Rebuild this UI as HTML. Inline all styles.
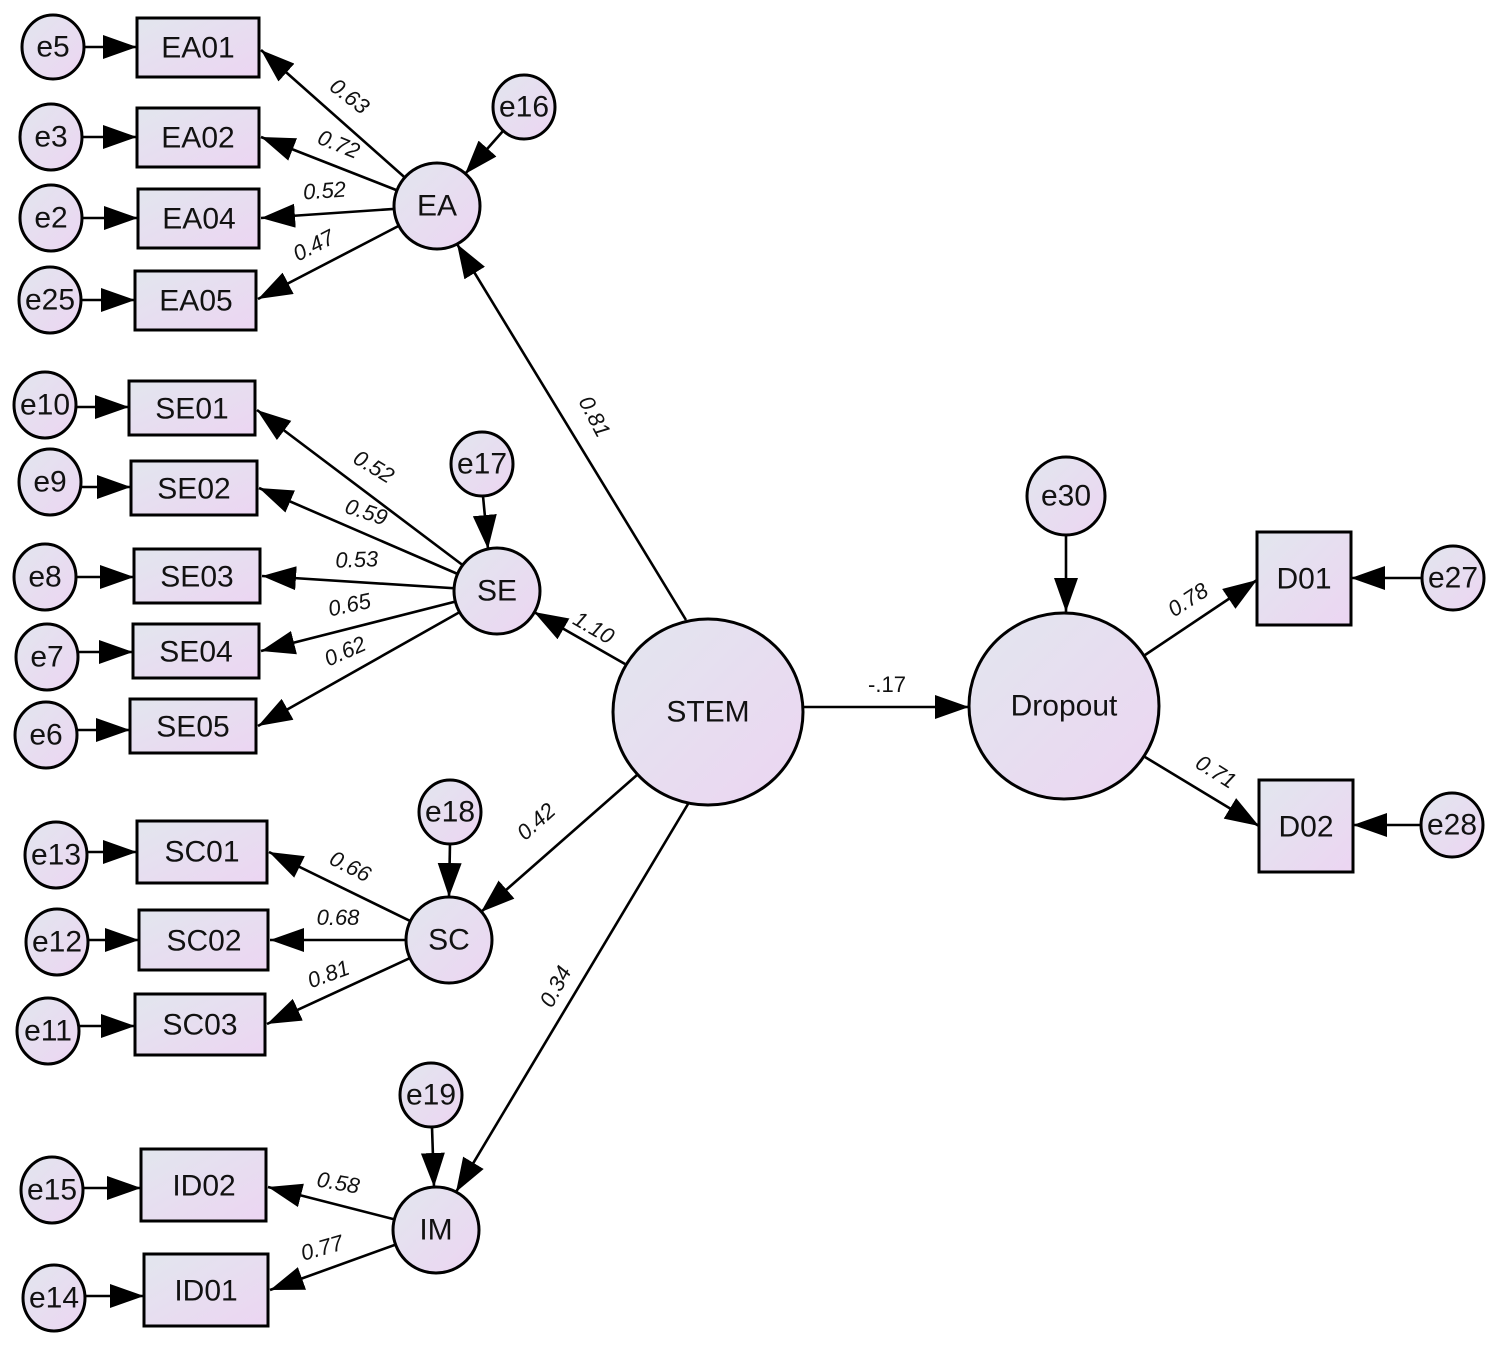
<!DOCTYPE html>
<html><head><meta charset="utf-8"><style>
html,body{margin:0;padding:0;background:#fff;}
svg{display:block;}
text{font-family:"Liberation Sans",Arial,sans-serif;fill:#111;}
.n{font-size:30px;text-anchor:middle;dominant-baseline:central;}
.l{font-size:22px;font-style:italic;text-anchor:middle;fill:#222;}
</style></head><body>
<svg width="1499" height="1350" viewBox="0 0 1499 1350" xmlns="http://www.w3.org/2000/svg">
<defs>
<linearGradient id="g" x1="0" y1="0" x2="1" y2="1">
<stop offset="0" stop-color="#e2e6ee"/><stop offset="1" stop-color="#ecd5f2"/>
</linearGradient>
<marker id="a" markerUnits="userSpaceOnUse" markerWidth="36" markerHeight="28" refX="34" refY="12" orient="auto">
<path d="M0,0 L34,12 L0,24 Z" fill="#000"/>
</marker>
</defs>
<g stroke="#000" stroke-width="2.6" fill="none" marker-end="url(#a)">
<!-- EA loadings -->
<line x1="437" y1="206" x2="261" y2="50"/>
<line x1="437" y1="206" x2="261" y2="137"/>
<line x1="437" y1="206" x2="261" y2="218"/>
<line x1="437" y1="206" x2="258" y2="299"/>
<!-- SE loadings -->
<line x1="497" y1="591" x2="257" y2="410"/>
<line x1="497" y1="591" x2="259" y2="488"/>
<line x1="497" y1="591" x2="262" y2="576"/>
<line x1="497" y1="591" x2="261" y2="651"/>
<line x1="497" y1="591" x2="258" y2="726"/>
<!-- SC -->
<line x1="449" y1="940" x2="269" y2="852"/>
<line x1="449" y1="940" x2="270" y2="940"/>
<line x1="449" y1="940" x2="267" y2="1024"/>
<!-- IM -->
<line x1="436" y1="1230" x2="268" y2="1187"/>
<line x1="436" y1="1230" x2="270" y2="1290"/>
<!-- STEM paths -->
<line x1="686" y1="620" x2="457" y2="244"/>
<line x1="625" y1="664" x2="534" y2="612"/>
<line x1="637" y1="775" x2="481" y2="912"/>
<line x1="688" y1="804" x2="456" y2="1192"/>
<line x1="804" y1="707" x2="969" y2="707"/>
<line x1="1145" y1="655" x2="1257" y2="580"/>
<line x1="1145" y1="757" x2="1259" y2="826"/>
<!-- residual arrows -->
<line x1="503" y1="131" x2="465" y2="174"/>
<line x1="483" y1="496" x2="488" y2="549"/>
<line x1="450" y1="843" x2="449" y2="897"/>
<line x1="432" y1="1127" x2="434" y2="1187"/>
<line x1="1066" y1="536" x2="1066" y2="612"/>
<line x1="1422" y1="578" x2="1351" y2="578"/>
<line x1="1421" y1="825" x2="1353" y2="825"/>
<line x1="84" y1="47" x2="137" y2="47"/>
<line x1="82" y1="137" x2="137" y2="137"/>
<line x1="82" y1="218" x2="138" y2="218"/>
<line x1="81" y1="300" x2="135" y2="300"/>
<line x1="76" y1="407" x2="129" y2="407"/>
<line x1="81" y1="487" x2="131" y2="487"/>
<line x1="76" y1="577" x2="134" y2="577"/>
<line x1="78" y1="652" x2="133" y2="652"/>
<line x1="77" y1="730" x2="130" y2="730"/>
<line x1="87" y1="852" x2="137" y2="852"/>
<line x1="88" y1="940" x2="139" y2="940"/>
<line x1="79" y1="1026" x2="135" y2="1026"/>
<line x1="83" y1="1188" x2="141" y2="1188"/>
<line x1="85" y1="1296" x2="144" y2="1296"/>
</g>
<g stroke="#000" stroke-width="3" fill="url(#g)">
<rect x="137" y="18" width="122" height="59"/>
<rect x="137" y="108" width="122" height="59"/>
<rect x="138" y="189" width="121" height="59"/>
<rect x="135" y="271" width="121" height="59"/>
<rect x="129" y="381" width="126" height="54"/>
<rect x="131" y="461" width="126" height="54"/>
<rect x="134" y="549" width="126" height="54"/>
<rect x="133" y="624" width="126" height="54"/>
<rect x="130" y="699" width="126" height="54"/>
<rect x="137" y="821" width="130" height="62"/>
<rect x="139" y="910" width="129" height="60"/>
<rect x="135" y="994" width="130" height="61"/>
<rect x="141" y="1149" width="125" height="72"/>
<rect x="144" y="1254" width="124" height="72"/>
<rect x="1257" y="532" width="94" height="93"/>
<rect x="1259" y="780" width="94" height="92"/>
<ellipse cx="53" cy="47" rx="31" ry="32"/>
<ellipse cx="51" cy="137" rx="31" ry="33"/>
<ellipse cx="51" cy="218" rx="31" ry="33"/>
<ellipse cx="50" cy="300" rx="31" ry="33"/>
<ellipse cx="45" cy="405" rx="31" ry="33"/>
<ellipse cx="50" cy="482" rx="31" ry="33"/>
<ellipse cx="45" cy="577" rx="31" ry="33"/>
<ellipse cx="47" cy="657" rx="31" ry="33"/>
<ellipse cx="46" cy="735" rx="31" ry="33"/>
<ellipse cx="56" cy="855" rx="31" ry="33"/>
<ellipse cx="57" cy="942" rx="31" ry="33"/>
<ellipse cx="48" cy="1031" rx="31" ry="33"/>
<ellipse cx="52" cy="1190" rx="31" ry="33"/>
<ellipse cx="54" cy="1298" rx="31" ry="33"/>
<ellipse cx="524" cy="107" rx="31" ry="32"/>
<ellipse cx="482" cy="464" rx="31" ry="32"/>
<ellipse cx="450" cy="812" rx="31" ry="32"/>
<ellipse cx="431" cy="1095" rx="31" ry="32"/>
<ellipse cx="1066" cy="496" rx="39" ry="39"/>
<ellipse cx="1453" cy="578" rx="31" ry="32"/>
<ellipse cx="1452" cy="825" rx="31" ry="32"/>
<circle cx="437" cy="206" r="43"/>
<circle cx="497" cy="591" r="43"/>
<circle cx="449" cy="940" r="43"/>
<circle cx="436" cy="1230" r="43"/>
<ellipse cx="708" cy="712" rx="95" ry="93"/>
<ellipse cx="1064" cy="706" rx="95" ry="93"/>
</g>
<g class="n">
<text x="198" y="48">EA01</text><text x="198" y="138">EA02</text><text x="199" y="219">EA04</text><text x="196" y="301">EA05</text>
<text x="192" y="409">SE01</text><text x="194" y="489">SE02</text><text x="197" y="577">SE03</text><text x="196" y="652">SE04</text><text x="193" y="727">SE05</text>
<text x="202" y="852">SC01</text><text x="204" y="941">SC02</text><text x="200" y="1025">SC03</text>
<text x="204" y="1186">ID02</text><text x="206" y="1291">ID01</text>
<text x="1304" y="579">D01</text><text x="1306" y="827">D02</text>
<text x="53" y="47">e5</text><text x="51" y="137">e3</text><text x="51" y="218">e2</text><text x="50" y="300">e25</text>
<text x="45" y="405">e10</text><text x="50" y="482">e9</text><text x="45" y="577">e8</text><text x="47" y="657">e7</text><text x="46" y="735">e6</text>
<text x="56" y="855">e13</text><text x="57" y="942">e12</text><text x="48" y="1031">e11</text><text x="52" y="1190">e15</text><text x="54" y="1298">e14</text>
<text x="524" y="107">e16</text><text x="482" y="464">e17</text><text x="450" y="812">e18</text><text x="431" y="1095">e19</text>
<text x="1066" y="496">e30</text><text x="1453" y="578">e27</text><text x="1452" y="825">e28</text>
<text x="437" y="206">EA</text><text x="497" y="591">SE</text><text x="449" y="940">SC</text><text x="436" y="1230">IM</text>
<text x="708" y="712">STEM</text><text x="1064" y="706">Dropout</text>
</g>
<g class="l">
<text transform="translate(345,102) rotate(38)">0.63</text>
<text transform="translate(336,151) rotate(22)">0.72</text>
<text transform="translate(325,198) rotate(-4)">0.52</text>
<text transform="translate(317,252) rotate(-27)">0.47</text>
<text transform="translate(588,420) rotate(62)">0.81</text>
<text transform="translate(370,473) rotate(31)">0.52</text>
<text transform="translate(364,519) rotate(18)">0.59</text>
<text transform="translate(357,567) rotate(-2)">0.53</text>
<text transform="translate(351,612) rotate(-12)">0.65</text>
<text transform="translate(348,658) rotate(-24)">0.62</text>
<text transform="translate(590,634) rotate(30)">1.10</text>
<text transform="translate(541,827) rotate(-42)">0.42</text>
<text transform="translate(562,990) rotate(-62)">0.34</text>
<text transform="translate(887,692)" style="font-style:normal">-.17</text>
<text transform="translate(1192,606) rotate(-33)">0.78</text>
<text transform="translate(1212,778) rotate(32)">0.71</text>
<text transform="translate(347,873) rotate(27)">0.66</text>
<text transform="translate(338,925) rotate(0)">0.68</text>
<text transform="translate(331,981) rotate(-20)">0.81</text>
<text transform="translate(337,1190) rotate(10)">0.58</text>
<text transform="translate(324,1255) rotate(-16)">0.77</text>
</g>
</svg>
</body></html>
